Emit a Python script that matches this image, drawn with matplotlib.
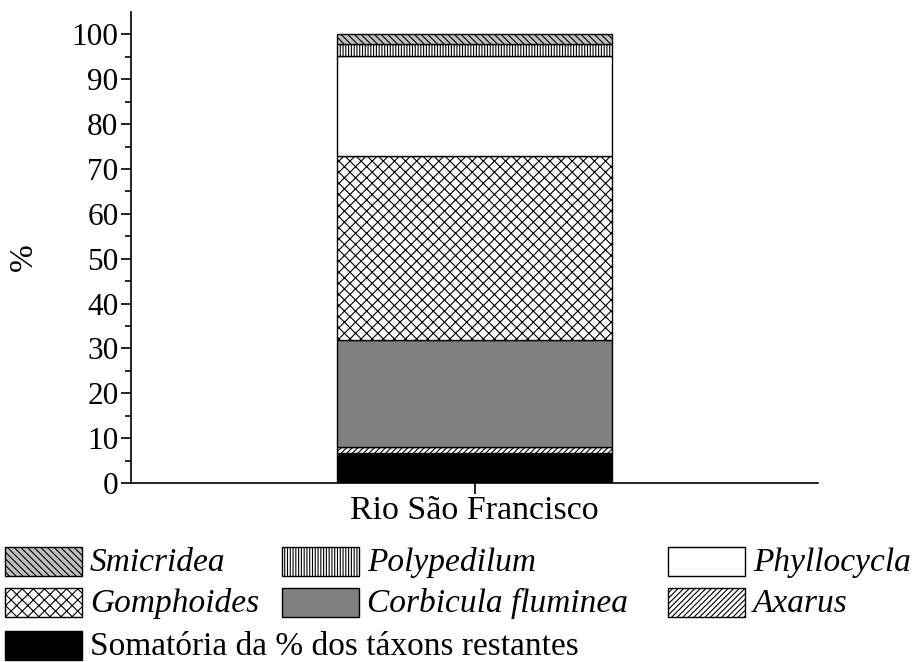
import numpy as np
import matplotlib
matplotlib.use("Agg")
import matplotlib.pyplot as plt
from matplotlib.patches import Rectangle

plt.rcParams['font.family'] = ['Liberation Serif', 'DejaVu Serif']
plt.rcParams['hatch.linewidth'] = 0.8

# data (bottom to top of the stack)
site = ["Rio São Francisco"]
taxa = ["Somatória da % dos táxons restantes", "Axarus", "Corbicula fluminea",
        "Gomphoides", "Phyllocycla", "Polypedilum", "Smicridea"]
values = [6.7, 1.3, 23.8, 41.2, 22.3, 2.6, 2.1]
italic = [False, True, True, True, True, True, True]

# styles
colors = ["black", "white", "#808080", "white", "white", "white", "#c0c0c0"]
hatches = [None, "/" * 6, None, "xxx", None, "|" * 6, "\\" * 5]

W, H = 919, 662
fig = plt.figure(figsize=(W / 100, H / 100), dpi=100)
ax = fig.add_axes([131 / W, 179 / H, 687 / W, 471 / H])

bottom = 0
for v, c, h in zip(values, colors, hatches):
    ax.bar(0, v, width=0.4, bottom=bottom, color=c, hatch=h,
           edgecolor="black", linewidth=1.0)
    bottom += v

ax.set_xlim(-0.5, 0.5)
ax.set_ylim(0, 105)
ax.set_xticks([0])
ax.set_xticklabels(site, fontsize=24.5)
ax.set_yticks(np.arange(0, 101, 10))
ax.set_yticks(np.arange(5, 101, 10), minor=True)
ax.tick_params(axis="y", which="major", length=7, width=1.2, labelsize=22.5, pad=2)
ax.tick_params(axis="y", which="minor", length=4, width=1.2)
ax.tick_params(axis="x", length=8, width=1.2, pad=1)
ax.set_ylabel("%", fontsize=24)
ax.yaxis.set_label_coords(-0.134, 0.48)
for s in ["top", "right"]:
    ax.spines[s].set_visible(False)
for s in ["left", "bottom"]:
    ax.spines[s].set_linewidth(1.2)

# legend laid out by hand in three columns
order = [6, 5, 4, 3, 2, 1, 0]
col_x = [5, 282, 668]
row_top = [547, 588, 631]
pw, ph = 77, 29
for k, i in enumerate(order):
    r, cidx = divmod(k, 3)
    x0 = col_x[cidx]
    y0 = row_top[r]
    fig.add_artist(Rectangle((x0 / W, 1 - (y0 + ph) / H), pw / W, ph / H,
                             transform=fig.transFigure, facecolor=colors[i],
                             hatch=hatches[i], edgecolor="black", linewidth=1.0))
    fig.text((x0 + pw + 8) / W, 1 - (y0 + ph / 2 + 1) / H, taxa[i],
             fontsize=24, style="italic" if italic[i] else "normal",
             ha="left", va="center")

fig.savefig("out.png", dpi=100)
